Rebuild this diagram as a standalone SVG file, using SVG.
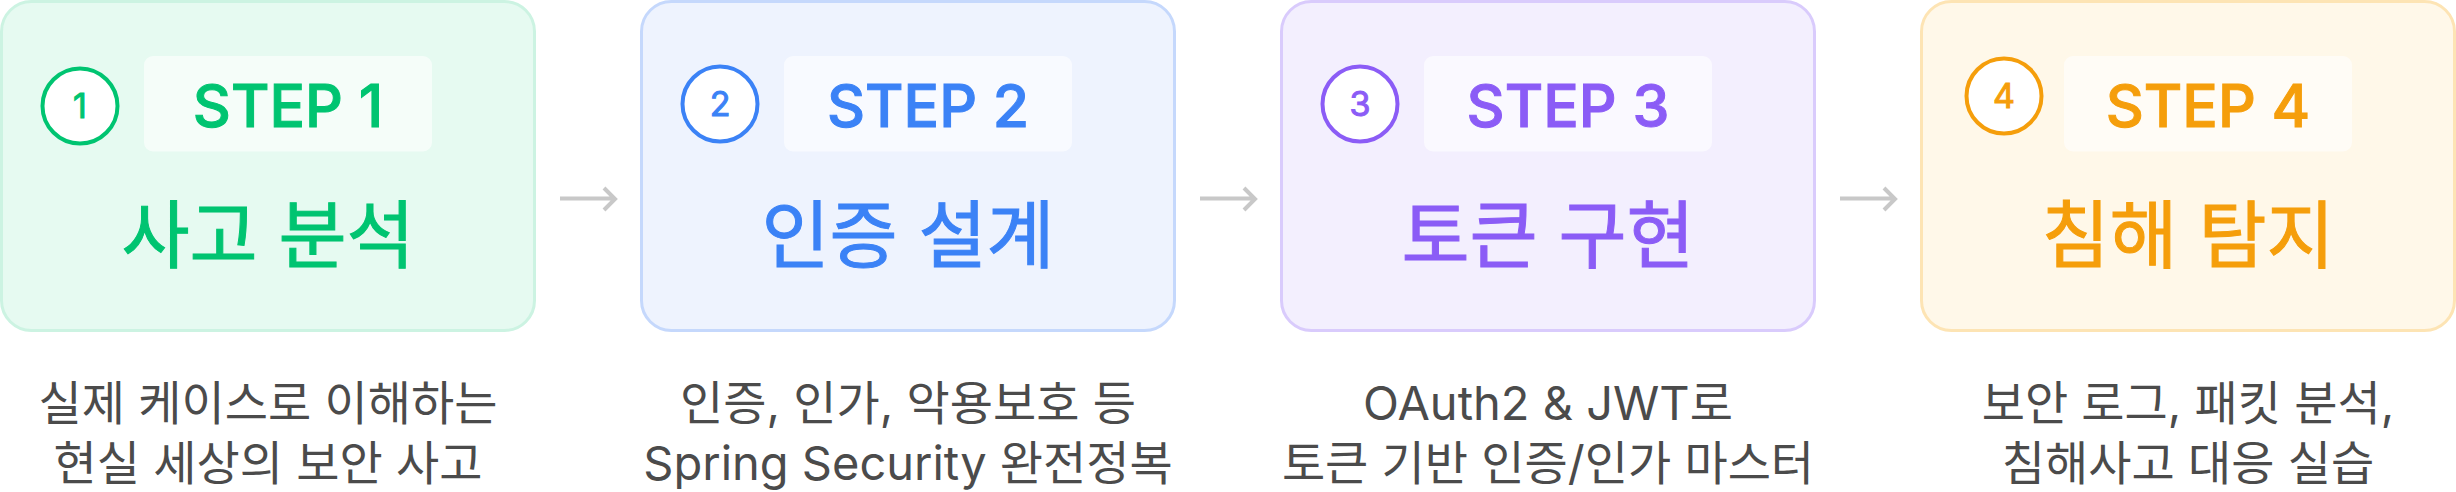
<svg xmlns="http://www.w3.org/2000/svg" width="2456" height="492" viewBox="0 0 2456 492">
<style>
  .box{stroke-width:3}
  .tag{fill:#ffffff;fill-opacity:0.6}
  .num-c{fill:#ffffff;stroke-width:4}
  .num{font-family:"Inter","Noto Sans CJK KR",sans-serif;font-size:34px;font-weight:400;text-anchor:middle}
  .step{font-family:"Inter","Noto Sans CJK KR",sans-serif;font-size:59px;font-weight:450;text-anchor:middle}
  .title{font-family:"Inter","Noto Sans CJK KR",sans-serif;font-size:74px;font-weight:400;text-anchor:middle}
  .desc{font-family:"Inter","Noto Sans CJK KR",sans-serif;font-size:47px;font-weight:400;text-anchor:middle;fill:#4b4b4b}
  .arrow{fill:none;stroke:#c8c8c8;stroke-width:4}
  .g{fill:#00c471;stroke:#00c471}
  .b{fill:#3b82f6;stroke:#3b82f6}
  .p{fill:#8b5cf6;stroke:#8b5cf6}
  .o{fill:#f59e0b;stroke:#f59e0b}
  text{stroke:none}
</style>

<g id="step1">
  <rect class="box" x="1.5" y="1.5" width="533" height="329" rx="30" fill="#e6faf1" stroke="#ccf3e2"/>
  <circle class="num-c" cx="80" cy="106" r="37.5" stroke="#00c471"/>
  <text class="num g" x="80" y="118">1</text>
  <rect class="tag" x="144" y="56" width="288" height="95.5" rx="9"/>
  <text class="step g" x="288" y="127">STEP 1</text>
  <text class="title g" x="268" y="262">사고 분석</text>
  <text class="desc" x="268" y="420">실제 케이스로 이해하는</text>
  <text class="desc" x="268" y="480">현실 세상의 보안 사고</text>
</g>

<g id="step2">
  <rect class="box" x="641.5" y="1.5" width="533" height="329" rx="30" fill="#eef3fe" stroke="#c5d8fc"/>
  <circle class="num-c" cx="720" cy="104" r="37.5" stroke="#3b82f6"/>
  <text class="num b" x="720" y="116">2</text>
  <rect class="tag" x="784" y="56" width="288" height="95.5" rx="9"/>
  <text class="step b" x="928" y="127">STEP 2</text>
  <text class="title b" x="908" y="262">인증 설계</text>
  <text class="desc" x="908" y="420">인증, 인가, 악용보호 등</text>
  <text class="desc" x="908" y="480">Spring Security 완전정복</text>
</g>

<g id="step3">
  <rect class="box" x="1281.5" y="1.5" width="533" height="329" rx="30" fill="#f3effe" stroke="#d9cbfc"/>
  <circle class="num-c" cx="1360" cy="104" r="37.5" stroke="#8b5cf6"/>
  <text class="num p" x="1360" y="116">3</text>
  <rect class="tag" x="1424" y="56" width="288" height="95.5" rx="9"/>
  <text class="step p" x="1568" y="127">STEP 3</text>
  <text class="title p" x="1548" y="262">토큰 구현</text>
  <text class="desc" x="1548" y="420">OAuth2 &amp; JWT로</text>
  <text class="desc" x="1548" y="480">토큰 기반 인증/인가 마스터</text>
</g>

<g id="step4">
  <rect class="box" x="1921.5" y="1.5" width="533" height="329" rx="30" fill="#fff8e9" stroke="#fde4b4"/>
  <circle class="num-c" cx="2004" cy="96" r="37.5" stroke="#f59e0b"/>
  <text class="num o" x="2004" y="108">4</text>
  <rect class="tag" x="2064" y="56" width="288" height="95.5" rx="9"/>
  <text class="step o" x="2208" y="127">STEP 4</text>
  <text class="title o" x="2188" y="262">침해 탐지</text>
  <text class="desc" x="2188" y="420">보안 로그, 패킷 분석,</text>
  <text class="desc" x="2188" y="480">침해사고 대응 실습</text>
</g>

<g id="connectors">
  <path class="arrow" d="M560 198.5H614M604 188L615 199L604 210"/>
  <path class="arrow" d="M1200 198.5H1254M1244 188L1255 199L1244 210"/>
  <path class="arrow" d="M1840 198.5H1894M1884 188L1895 199L1884 210"/>
</g>
</svg>
